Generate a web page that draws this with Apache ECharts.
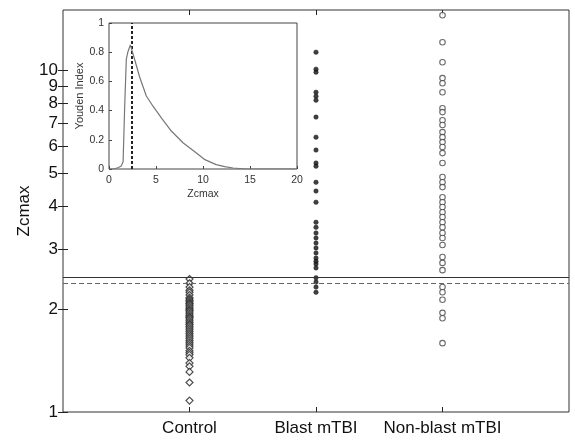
<!DOCTYPE html>
<html><head><meta charset="utf-8">
<script src="https://cdn.jsdelivr.net/npm/echarts@6/dist/echarts.min.js"></script>
<style>html,body{margin:0;padding:0;background:#fff}#c{width:575px;height:441px}</style>
</head><body><div id="c"></div>
<script>
const categories = ['Control', 'Blast mTBI', 'Non-blast mTBI'];
const controlValues = [2.45, 2.38, 2.32, 2.27, 2.24, 2.20, 2.16, 2.14, 2.12, 2.10, 2.08, 2.07, 2.05, 2.03, 2.01, 1.99, 1.98, 1.96, 1.94, 1.92, 1.90, 1.89, 1.87, 1.85, 1.83, 1.81, 1.80, 1.78, 1.76, 1.74, 1.72, 1.70, 1.68, 1.66, 1.64, 1.62, 1.60, 1.58, 1.56, 1.54, 1.51, 1.49, 1.47, 1.44, 1.39, 1.36, 1.31, 1.22, 1.08];
const blastValues = [11.29, 10.07, 9.87, 8.62, 8.39, 8.17, 7.29, 6.37, 5.84, 5.35, 5.24, 4.70, 4.43, 4.11, 3.59, 3.47, 3.34, 3.23, 3.12, 3.02, 2.92, 2.82, 2.76, 2.71, 2.64, 2.47, 2.40, 2.32, 2.24];
const nonBlastValues = [14.48, 12.07, 10.55, 9.48, 9.16, 8.62, 7.74, 7.54, 7.14, 6.91, 6.59, 6.37, 6.16, 5.96, 5.72, 5.35, 4.87, 4.70, 4.55, 4.25, 4.11, 3.98, 3.84, 3.72, 3.59, 3.47, 3.34, 3.23, 3.08, 2.84, 2.73, 2.60, 2.32, 2.24, 2.13, 1.95, 1.88, 1.59];
const yTickValues = [1, 2, 3, 4, 5, 6, 7, 8, 9, 10];
// labels split over two overlaid axes so that close neighbours (9/10) both stay visible
const yLabelsMain = [1, 2, 3, 4, 5, 6, 7, 8, 10];
const yLabelsExtra = [9];
const xTickPositions = [1, 2, 3];
const thresholdSolid = 2.48;
const thresholdDashed = 2.38;
const insetZcmax = [0, 0.5, 1.0, 1.3, 1.5, 1.67, 1.84, 2.0, 2.27, 2.5, 2.73, 3.26, 3.97, 4.68, 5.57, 6.63, 7.87, 9.3, 10.2, 11.4, 12.3, 13.2, 14.6, 16, 18, 20];
const insetYouden = [0, 0, 0.01, 0.02, 0.05, 0.43, 0.75, 0.8, 0.85, 0.8, 0.75, 0.63, 0.5, 0.43, 0.35, 0.26, 0.18, 0.11, 0.064, 0.03, 0.016, 0.007, 0, 0, 0, 0];
const insetXTicks = [0, 5, 10, 15, 20];
const insetYTicks = [0, 0.2, 0.4, 0.6, 0.8, 1];
const insetOptimum = 2.38;

const chart = echarts.init(document.getElementById('c'), null, {renderer: 'canvas'});
const ff = 'Liberation Sans, Arial, sans-serif';
const dark = '#222';
const yLabelStyle = {hideOverlap: false, showMinLabel: true, showMaxLabel: true,
  formatter: v => String(Math.round(v)), fontSize: 17, color: '#111', margin: 5, fontFamily: ff};
const option = {
  backgroundColor: '#fff',
  animation: false,
  textStyle: {fontFamily: ff},
  grid: [
    {left: 63, top: 10, right: 6, bottom: 29, show: true, borderColor: '#333', borderWidth: 1, backgroundColor: '#fff'},
    {left: 109, top: 23, width: 188, height: 146, show: true, borderColor: '#444', borderWidth: 1, backgroundColor: '#fff', z: 5}
  ],
  xAxis: [
    {type: 'value', gridIndex: 0, min: 0, max: 4, position: 'bottom',
      axisLine: {show: false}, splitLine: {show: false},
      axisTick: {show: true, inside: true, length: 5, customValues: xTickPositions, lineStyle: {color: dark}},
      axisLabel: {customValues: xTickPositions, hideOverlap: false, formatter: v => categories[Math.round(v) - 1], fontSize: 17, color: '#111', margin: 8, fontFamily: ff}},
    {type: 'value', gridIndex: 0, min: 0, max: 4, position: 'top',
      axisLine: {show: false}, splitLine: {show: false},
      axisTick: {show: true, inside: true, length: 5, customValues: xTickPositions, lineStyle: {color: dark}},
      axisLabel: {show: false}},
    {type: 'value', gridIndex: 1, min: 0, max: 20, interval: 5,
      axisLine: {show: false}, splitLine: {show: false},
      axisTick: {show: true, inside: true, length: 3, lineStyle: {color: '#444'}},
      axisLabel: {fontSize: 10.5, color: '#333', margin: 6, fontFamily: ff, hideOverlap: false},
      name: 'Zcmax', nameLocation: 'middle', nameGap: 20, nameTextStyle: {fontSize: 10.5, color: '#333'}, z: 6}
  ],
  yAxis: [
    {type: 'log', logBase: 10, gridIndex: 0, min: 1, max: 15, position: 'left',
      axisLine: {show: false}, splitLine: {show: false}, minorTick: {show: false},
      axisTick: {show: true, inside: true, length: 5, customValues: yTickValues, lineStyle: {color: dark}},
      axisLabel: Object.assign({customValues: yLabelsMain}, yLabelStyle),
      name: 'Zcmax', nameLocation: 'middle', nameGap: 30, nameMoveOverlap: false, nameRotate: 90, nameTextStyle: {fontSize: 17, color: '#111'}},
    {type: 'log', logBase: 10, gridIndex: 0, min: 1, max: 15, position: 'right',
      axisLine: {show: false}, splitLine: {show: false}, minorTick: {show: false},
      axisTick: {show: true, inside: true, length: 5, customValues: yTickValues, lineStyle: {color: dark}},
      axisLabel: {show: false}},
    {type: 'value', gridIndex: 1, min: 0, max: 1, interval: 0.2,
      axisLine: {show: false}, splitLine: {show: false},
      axisTick: {show: true, inside: true, length: 3, lineStyle: {color: '#444'}},
      axisLabel: {fontSize: 10.5, color: '#333', margin: 5, fontFamily: ff, hideOverlap: false, formatter: v => String(+v.toFixed(1))},
      name: 'Youden Index', nameLocation: 'middle', nameGap: 22, nameRotate: 90, nameTextStyle: {fontSize: 11, color: '#333'}, z: 6},
    {type: 'log', logBase: 10, gridIndex: 0, min: 1, max: 15, position: 'left', offset: 0,
      axisLine: {show: false}, splitLine: {show: false}, minorTick: {show: false},
      axisTick: {show: false},
      axisLabel: Object.assign({customValues: yLabelsExtra}, yLabelStyle)}
  ],
  series: [
    {type: 'scatter', name: categories[0], xAxisIndex: 0, yAxisIndex: 0,
      data: controlValues.map(v => [1, v]), symbol: 'diamond', symbolSize: 7,
      itemStyle: {color: '#fff', borderColor: '#222', borderWidth: 1.2}},
    {type: 'scatter', name: categories[1], xAxisIndex: 0, yAxisIndex: 0,
      data: blastValues.map(v => [2, v]), symbol: 'circle', symbolSize: 4.5,
      itemStyle: {color: '#111', borderColor: '#111', borderWidth: 0.5}},
    {type: 'scatter', name: categories[2], xAxisIndex: 0, yAxisIndex: 0,
      data: nonBlastValues.map(v => [3, v]), symbol: 'circle', symbolSize: 5.5,
      itemStyle: {color: '#fff', borderColor: '#444', borderWidth: 1.1},
      markLine: {silent: true, symbol: 'none', label: {show: false},
        data: [
          {yAxis: thresholdSolid, lineStyle: {type: 'solid', color: '#333', width: 1}},
          {yAxis: thresholdDashed, lineStyle: {type: [5, 3], color: '#666', width: 1}}
        ]}},
    {type: 'line', xAxisIndex: 2, yAxisIndex: 2, z: 7,
      data: insetZcmax.map((x, i) => [x, insetYouden[i]]),
      showSymbol: false, lineStyle: {color: '#777', width: 1.2},
      markLine: {silent: true, symbol: 'none', label: {show: false},
        data: [{xAxis: insetOptimum, lineStyle: {type: [3, 2], color: '#222', width: 2}}]}}
  ]
};
chart.setOption(option);
</script>
</body></html>
